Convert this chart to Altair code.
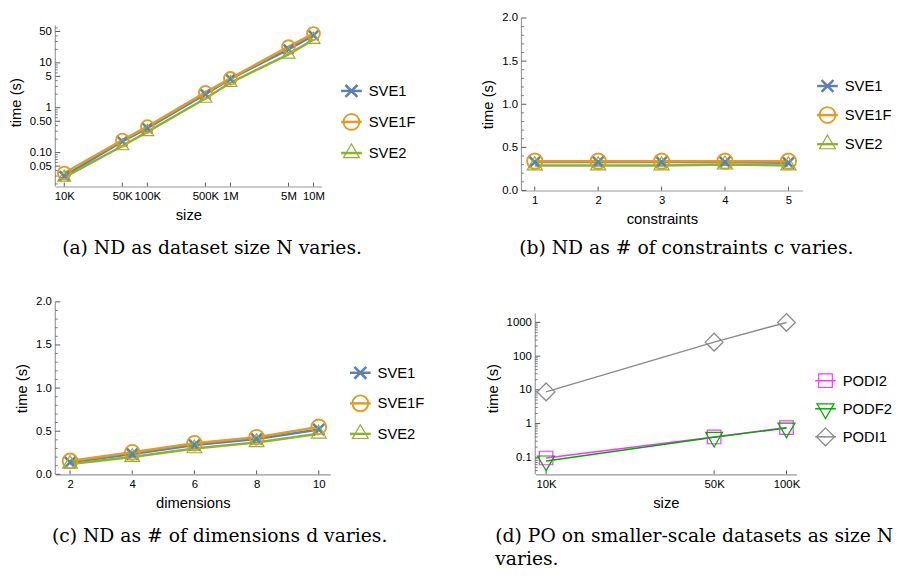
import altair as alt
import pandas as pd

# ---------------- data ----------------
# (a) ND as dataset size N varies (log-log)
a_size = [1e4, 5e4, 1e5, 5e5, 1e6, 5e6, 1e7]
a_sve1 = [0.030, 0.178, 0.35, 2.0, 4.4, 20, 41]
a_sve1f = [0.035, 0.19, 0.38, 2.2, 4.5, 23, 45]
a_sve2 = [0.028, 0.14, 0.29, 1.6, 3.6, 15.5, 33]

# (b) ND as # of constraints varies
b_constraints = [1, 2, 3, 4, 5]
b_sve1 = [0.33, 0.33, 0.33, 0.33, 0.32]
b_sve1f = [0.34, 0.34, 0.34, 0.34, 0.34]
b_sve2 = [0.29, 0.29, 0.29, 0.30, 0.29]

# (c) ND as # of dimensions varies
c_dims = [2, 4, 6, 8, 10]
c_sve1 = [0.14, 0.235, 0.34, 0.41, 0.52]
c_sve1f = [0.155, 0.255, 0.36, 0.43, 0.55]
c_sve2 = [0.12, 0.20, 0.30, 0.37, 0.47]

# (d) PO on smaller-scale datasets
d_size = [1e4, 5e4, 1e5]
d_podi2 = [0.095, 0.40, 0.76]
d_podf2 = [0.078, 0.39, 0.74]
d_podi1 = [8.7, 260, 1000]

sve_series = ["SVE1", "SVE1F", "SVE2"]
po_series = ["PODI2", "PODF2", "PODI1"]

# tick values
a_x_ticks = [1e4, 5e4, 1e5, 5e5, 1e6, 5e6, 1e7]
a_y_major = [0.05, 0.1, 0.5, 1, 5, 10, 50]
lin_x_b = [1, 2, 3, 4, 5]
lin_x_c = [2, 4, 6, 8, 10]
lin_y_major = [0.0, 0.5, 1.0, 1.5, 2.0]
d_x_ticks = [1e4, 5e4, 1e5]
d_y_major = [0.1, 1, 10, 100, 1000]


def log_minor(lo, hi, majors):
    out = []
    for e in range(-3, 4):
        for m in range(1, 10):
            v = round(m * 10 ** e, 6)
            if lo <= v <= hi and all(abs(v - mj) > 1e-9 for mj in majors):
                out.append(v)
    return out


lin_y_minor = [round(0.1 * i, 2) for i in range(21) if i % 5 != 0]

FONT = "Liberation Sans"
SERIF = "DejaVu Serif"
AXIS_GRAY = "#9a9a9a"
TICK_GRAY = "#5a5a5a"

SVE_COLORS = ["#5E81B5", "#E19C24", "#8FB032"]
PO_COLORS = ["#FF33FF", "#00A800", "#8A8A8A"]

P_X = "M-0.75,-0.75L0.75,0.75M-0.75,0.75L0.75,-0.75"
P_CIRCLE = "M1,0A1,1,0,1,1,-1,0A1,1,0,1,1,1,0Z"
P_TRI_UP = "M0,-1.15L1,0.58L-1,0.58Z"
P_TRI_DOWN = "M0,1.15L1,-0.58L-1,-0.58Z"
P_SQUARE = "M-0.8,-0.8L0.8,-0.8L0.8,0.8L-0.8,0.8Z"
P_DIAMOND = "M0,-1.05L1.05,0L0,1.05L-1.05,0Z"


def panel(xs, series, values, colors, paths, sws, *, x_type, x_dom, x_vals, x_expr,
          x_title, y_type, y_dom, y_line, y_major, y_minor, y_expr, width, height, msize,
          lw, leg_range, leg_dx, leg_size, caption):
    rows = []
    for s, vals in zip(series, values):
        for xv, yv in zip(xs, vals):
            rows.append({"x": xv, "y": yv, "series": s})
    df = pd.DataFrame(rows)

    if x_type == "log":
        xscale = alt.Scale(type="log", domain=x_dom, nice=False)
    else:
        xscale = alt.Scale(type="linear", domain=x_dom, nice=False, zero=False)
    if y_type == "log":
        yscale = alt.Scale(type="log", domain=y_dom, nice=False)
    else:
        yscale = alt.Scale(type="linear", domain=y_dom, nice=False, zero=False)

    x_axis = alt.Axis(values=x_vals, labelExpr=x_expr, title=x_title, labelOverlap=False,
                      labelFlush=False)

    color_enc = alt.Color("series:N", scale=alt.Scale(domain=series, range=colors), legend=None)
    shape_enc = alt.Shape("series:N", scale=alt.Scale(domain=series, range=paths), legend=None)
    sw_enc = alt.StrokeWidth("series:N", scale=alt.Scale(domain=series, range=sws), legend=None)

    lines = alt.Chart(df).mark_line(strokeWidth=lw).encode(
        x=alt.X("x:Q", scale=xscale, axis=x_axis),
        y=alt.Y("y:Q", scale=yscale, axis=alt.Axis(
            values=y_major, labelExpr=y_expr, title="time (s)", labelOverlap=False,
            labelFlush=False, domain=False)),
        color=color_enc,
    )
    points = alt.Chart(df).mark_point(filled=False, size=msize, opacity=1).encode(
        x=alt.X("x:Q", scale=xscale, axis=x_axis),
        y=alt.Y("y:Q", scale=yscale, axis=None),
        color=color_enc, shape=shape_enc, strokeWidth=sw_enc,
    )
    # y axis line (only over the axis extent)
    yline = alt.Chart(pd.DataFrame({"lo": [y_line[0]], "hi": [y_line[1]]})).mark_rule(
        color=AXIS_GRAY, strokeWidth=1.2).encode(
        y=alt.Y("lo:Q", scale=yscale, axis=None), y2="hi:Q", x=alt.value(0))
    # inward ticks
    ymaj = alt.Chart(pd.DataFrame({"t": y_major})).mark_rule(color=TICK_GRAY, strokeWidth=1).encode(
        y=alt.Y("t:Q", scale=yscale, axis=None), x=alt.value(0), x2=alt.value(5))
    ymin = alt.Chart(pd.DataFrame({"t": y_minor})).mark_rule(color=TICK_GRAY, strokeWidth=0.8).encode(
        y=alt.Y("t:Q", scale=yscale, axis=None), x=alt.value(0), x2=alt.value(2.5))
    xmaj = alt.Chart(pd.DataFrame({"x": x_vals})).mark_rule(color=TICK_GRAY, strokeWidth=1).encode(
        x=alt.X("x:Q", scale=xscale, axis=x_axis), y=alt.value(height), y2=alt.value(height - 4))

    # legend
    ldf = pd.DataFrame({"series": series})
    ly = alt.Y("series:N", scale=alt.Scale(type="point", domain=series, range=leg_range, padding=0),
               axis=None)
    lrule = alt.Chart(ldf).mark_rule(strokeWidth=lw).encode(
        y=ly, x=alt.value(width + leg_dx), x2=alt.value(width + leg_dx + 21), color=color_enc)
    lpt = alt.Chart(ldf).mark_point(filled=False, size=leg_size, opacity=1).encode(
        y=ly, x=alt.value(width + leg_dx + 10.5), color=color_enc, shape=shape_enc,
        strokeWidth=sw_enc)
    ltxt = alt.Chart(ldf).mark_text(align="left", baseline="middle", font=FONT, fontSize=15,
                                    color="black").encode(
        y=ly, x=alt.value(width + leg_dx + 28), text="series:N")

    layers = [yline, ymin, ymaj, xmaj, lines, points, lrule, lpt, ltxt]
    return alt.layer(*layers).resolve_scale(y="independent").properties(
        width=width, height=height, title=caption)


def caption(text, anchor="middle", offset=12, dx=0):
    return alt.TitleParams(text=text, orient="bottom", anchor=anchor, frame="bounds",
                           font=SERIF, fontSize=19, fontWeight="normal", color="black",
                           offset=offset, dx=dx, lineHeight=24)


size_expr = "datum.value >= 1000000 ? (datum.value / 1000000) + 'M' : (datum.value / 1000) + 'K'"
a_y_expr = "datum.value < 1 ? format(datum.value, '.2f') : format(datum.value, 'd')"
d_y_expr = "datum.value < 1 ? format(datum.value, '.1f') : format(datum.value, 'd')"
lin_expr = "format(datum.value, '.1f')"
int_expr = "format(datum.value, 'd')"

pa = panel(a_size, sve_series, [a_sve1, a_sve1f, a_sve2], SVE_COLORS,
           [P_X, P_CIRCLE, P_TRI_UP], [2.6, 1.2, 1.2],
           x_type="log", x_dom=[7800, 1.245e7], x_vals=a_x_ticks, x_expr=size_expr,
           x_title="size", y_type="log", y_dom=[0.0175, 100], y_line=[0.0175, 67.7],
           y_major=a_y_major, y_minor=log_minor(0.0175, 67.7, a_y_major), y_expr=a_y_expr,
           width=270, height=171, msize=169, lw=2.5, leg_range=[74, 137], leg_dx=20,
           leg_size=260, caption=caption("(a) ND as dataset size N varies.", offset=17))

pb = panel(b_constraints, sve_series, [b_sve1, b_sve1f, b_sve2], SVE_COLORS,
           [P_X, P_CIRCLE, P_TRI_UP], [2.6, 1.2, 1.2],
           x_type="linear", x_dom=[0.79, 5.22], x_vals=lin_x_b, x_expr=int_expr,
           x_title="constraints", y_type="linear", y_dom=[0, 2.0], y_line=[0, 2.0],
           y_major=lin_y_major, y_minor=lin_y_minor, y_expr=lin_expr,
           width=285, height=175, msize=240, lw=2.5, leg_range=[69, 128], leg_dx=15,
           leg_size=260, caption=caption("(b) ND as # of constraints c varies.", offset=13))

pc = panel(c_dims, sve_series, [c_sve1, c_sve1f, c_sve2], SVE_COLORS,
           [P_X, P_CIRCLE, P_TRI_UP], [2.6, 1.2, 1.2],
           x_type="linear", x_dom=[1.525, 10.37], x_vals=lin_x_c, x_expr=int_expr,
           x_title="dimensions", y_type="linear", y_dom=[0, 2.0], y_line=[0, 2.0],
           y_major=lin_y_major, y_minor=lin_y_minor, y_expr=lin_expr,
           width=279, height=175, msize=225, lw=2.5, leg_range=[72, 134], leg_dx=20,
           leg_size=260, caption=caption("(c) ND as # of dimensions d varies.", offset=17))

pd_ = panel(d_size, po_series, [d_podi2, d_podf2, d_podi1], PO_COLORS,
            [P_SQUARE, P_TRI_DOWN, P_DIAMOND], [1.2, 1.3, 1.2],
            x_type="log", x_dom=[9015, 110000], x_vals=d_x_ticks, x_expr=size_expr,
            x_title="size", y_type="log", y_dom=[0.0312, 4080], y_line=[0.0312, 1833],
            y_major=d_y_major, y_minor=log_minor(0.0312, 1833, d_y_major), y_expr=d_y_expr,
            width=265, height=175, msize=294, lw=1.5, leg_range=[80, 137], leg_dx=19,
            leg_size=300,
            caption=caption(["(d) PO on smaller-scale datasets as size N", "varies."],
                            anchor="start", offset=17, dx=10))

indep = dict(color="independent", shape="independent", strokeWidth="independent")
row1 = alt.hconcat(pa, pb, spacing=66).resolve_scale(**indep)
row2 = alt.hconcat(pc, pd_, spacing=61).resolve_scale(**indep)

chart = alt.vconcat(row1, row2, spacing=38).resolve_scale(**indep).properties(
    padding=0
).configure_view(
    stroke=None
).configure_axis(
    labelFont=FONT, labelFontSize=11.5, labelColor="black", titleFont=FONT,
    titleFontSize=15, titleFontWeight="normal", titleColor="black",
    domainColor=AXIS_GRAY, domainWidth=1.2, ticks=False, grid=False,
    labelPadding=4, titlePadding=6,
)

chart.save("out.html", embed_options={"renderer": "svg", "actions": False})
